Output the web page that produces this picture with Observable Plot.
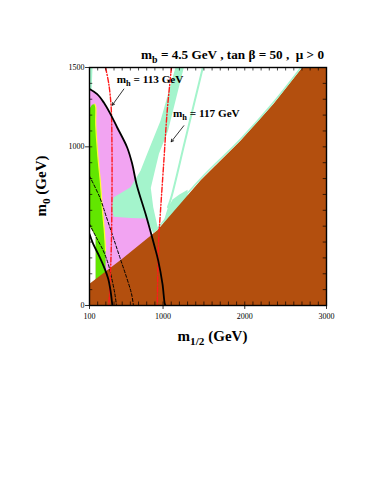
<!DOCTYPE html>
<html><head><meta charset="utf-8">
<script src="https://cdn.jsdelivr.net/npm/d3@7"></script>
<script src="https://cdn.jsdelivr.net/npm/@observablehq/plot@0.6"></script>
<style>body{margin:0;background:#fff}</style>
</head><body><div id="chart"></div>
<script>
// ---- data (m1/2, m0) in GeV ----
const xTickValues = d3.range(100, 3001, 100);
const yTickValues = d3.range(0, 1501, 100);
const xTickLabels = [100, 1000, 2000, 3000];
const yTickLabels = [0, 1000, 1500];

const brownEdge = [[100,137],[500,295],[930,475],[1460,790],[1950,1040],[2350,1270],[2703,1500]];
const brownCorners = [[3000,1500],[3000,0],[100,0]];
const pinkRegion = [[100,1364],[194,1332],[275,1279],[357,1206],[439,1122],[561,996],[623,892],[675,766],[798,556],[880,400],[880,100],[175,100],[175,440],[100,500]];
const greenRegion = [[100,1240],[130,1266],[165,1270],[177,1250],[176,1145],[204,931],[235,768],[259,598],[284,453],[296,346],[298,120],[175,120],[175,440],[100,500]];
const yellowEdge = [[165,1270],[177,1250],[176,1145],[204,931],[235,768],[259,598],[284,453],[296,346]];
const aquaBand = [[1152,1500],[1254,1500],[1060,1100],[950,957],[900,850],[850,740],[880,620],[940,480],[880,455],[800,548],[600,552],[397,560],[370,620],[397,682],[602,745],[724,850],[806,957],[969,1164]];
const aquaCorner = [[100,1364],[100,1500],[137,1500],[125,1352]];
const aquaBlob = [[990,500],[1060,620],[1120,670],[1200,700],[1300,730],[1300,650],[990,470]];
const aquaThin = [[1487,1500],[1270,1040],[1100,680],[1060,620]];
const coannStrip = [[930,475],[1460,790],[1950,1040],[2350,1270],[2703,1500]];

const g2Outer = [[100,1364],[194,1332],[275,1279],[357,1206],[439,1122],[561,996],[623,892],[675,766],[798,556],[899,367],[941,283],[993,136],[1021,11],[1030,0]];
const g2Inner = [[100,451],[145,388],[226,304],[287,231],[329,168],[357,94],[380,0]];
const dashOuter = [[100,816],[226,681],[308,556],[390,430],[471,304],[553,178],[614,74],[638,0]];
const dashInner = [[100,514],[182,430],[268,346],[329,262],[369,178],[410,74],[430,0]];
const higgs113 = [[296,1500],[335,1400],[365,1250],[375,1000],[375,700],[368,400],[352,150],[336,0]];
const higgs117 = [[1103,1500],[1051,1227],[1010,912],[969,598],[945,400],[935,200],[930,0]];

const higgsLabels = [{x:439, y:1397, sub:"h", text:" = 113 GeV"}, {x:1128, y:1183, sub:"h", text:" = 117 GeV"}];
const higgsArrows = [{x1:520, y1:1364, x2:378, y2:1262}, {x1:1254, y1:1133, x2:1100, y2:1032}];

const BROWN = "#b34f0e", PINK = "#f2a4f2", GREEN = "#62e600", AQUA = "#a4f4cc", RED = "#ff1a1a";
const P = a => a.map(([x, y]) => ({x, y}));
const poly = (a, fill) => Plot.line(P(a), {x: "x", y: "y", fill, stroke: "none", clip: true});
const curve = (a, o) => Plot.line(P(a), {x: "x", y: "y", curve: "catmull-rom", clip: true, ...o});
const SERIF = "Liberation Serif, Times New Roman, serif";

const chart = Plot.plot({
  width: 374, height: 485,
  marginLeft: 89, marginRight: 48, marginTop: 67, marginBottom: 180,
  x: {domain: [100, 3000], axis: null},
  y: {domain: [0, 1500], axis: null},
  style: {background: "white", overflow: "visible"},
  marks: [
    poly(pinkRegion, PINK),
    poly(aquaCorner, AQUA),
    poly(aquaBand, AQUA),
    poly(aquaBlob, AQUA),
    poly(greenRegion, GREEN),
    curve(yellowEdge, {stroke: "#ffff30", strokeWidth: 1.2}),
    curve(aquaThin, {stroke: AQUA, strokeWidth: 2}),
    poly([...brownEdge, ...brownCorners], BROWN),
    curve(coannStrip, {stroke: AQUA, strokeWidth: 1.5, dy: -1, dx: -0.5}),
    curve(dashOuter, {stroke: "black", strokeWidth: 1, strokeDasharray: "3,2"}),
    curve(dashInner, {stroke: "black", strokeWidth: 1, strokeDasharray: "3,2"}),
    curve(higgs113, {stroke: RED, strokeWidth: 1.4, strokeDasharray: "5,2,1,2"}),
    curve(higgs117, {stroke: RED, strokeWidth: 1.4, strokeDasharray: "5,2,1,2"}),
    curve(g2Inner, {stroke: "black", strokeWidth: 1.8}),
    curve(g2Outer, {stroke: "black", strokeWidth: 1.8}),
    Plot.arrow(higgsArrows, {x1: "x1", y1: "y1", x2: "x2", y2: "y2", stroke: "black", strokeWidth: 0.8, headLength: 5}),
    // ticks (inward on all sides)
    Plot.ruleX(xTickValues, {x: d => d, y1: 0, y2: 22, stroke: "black", strokeWidth: 0.7}),
    Plot.ruleX(xTickValues, {x: d => d, y1: 1478, y2: 1500, stroke: "black", strokeWidth: 0.7}),
    Plot.ruleY(yTickValues, {y: d => d, x1: 100, x2: 140, stroke: "black", strokeWidth: 0.7}),
    Plot.ruleY(yTickValues, {y: d => d, x1: 2960, x2: 3000, stroke: "black", strokeWidth: 0.7}),
    Plot.ruleY(yTickLabels, {y: d => d, x1: 52, x2: 100, stroke: "black", strokeWidth: 0.8}),
    Plot.ruleX(xTickLabels, {x: d => d, y1: -25, y2: 0, stroke: "black", strokeWidth: 0.8}),
    Plot.frame({stroke: "black", strokeWidth: 1.4}),
    Plot.text(yTickLabels, {x: 100, y: d => d, text: d => String(d), textAnchor: "end", dx: -5, fontSize: 8, fontFamily: SERIF, fill: "black"}),
    Plot.text(xTickLabels, {x: d => d, y: 0, text: d => String(d), dy: 11, fontSize: 8, fontFamily: SERIF, fill: "black"})
  ]
});
document.getElementById("chart").appendChild(chart);

// ---- texts with subscripts, positioned through the plot's scales ----
const sx = chart.scale("x"), sy = chart.scale("y");
const svg = d3.select(chart);
function subText(x, y, base, sub, rest, size, anchor, rotate) {
  const t = svg.append("text")
    .attr("font-family", SERIF).attr("font-weight", "bold").attr("font-size", size)
    .attr("fill", "black").attr("text-anchor", anchor);
  if (rotate) t.attr("transform", `translate(${x},${y}) rotate(-90)`);
  else t.attr("x", x).attr("y", y);
  t.append("tspan").text(base);
  t.append("tspan").attr("font-size", size * 0.75).attr("dy", size * 0.28).text(sub);
  t.append("tspan").attr("dy", -size * 0.28).text(rest);
  return t;
}
for (const d of higgsLabels) subText(sx.apply(d.x), sy.apply(d.y), "m", d.sub, d.text, 11.2, "start");
subText(sx.apply(3000) - 2, sy.apply(1500) - 8, "m", "b", " = 4.5 GeV , tan \u03B2 = 50 ,  \u03BC > 0", 13.2, "end");
subText((sx.apply(100) + sx.apply(3000)) / 2 + 5, 341, "m", "1/2", " (GeV)", 15, "middle");
subText(46, (sy.apply(0) + sy.apply(1500)) / 2, "m", "0", " (GeV)", 15, "middle", true);
</script></body></html>
